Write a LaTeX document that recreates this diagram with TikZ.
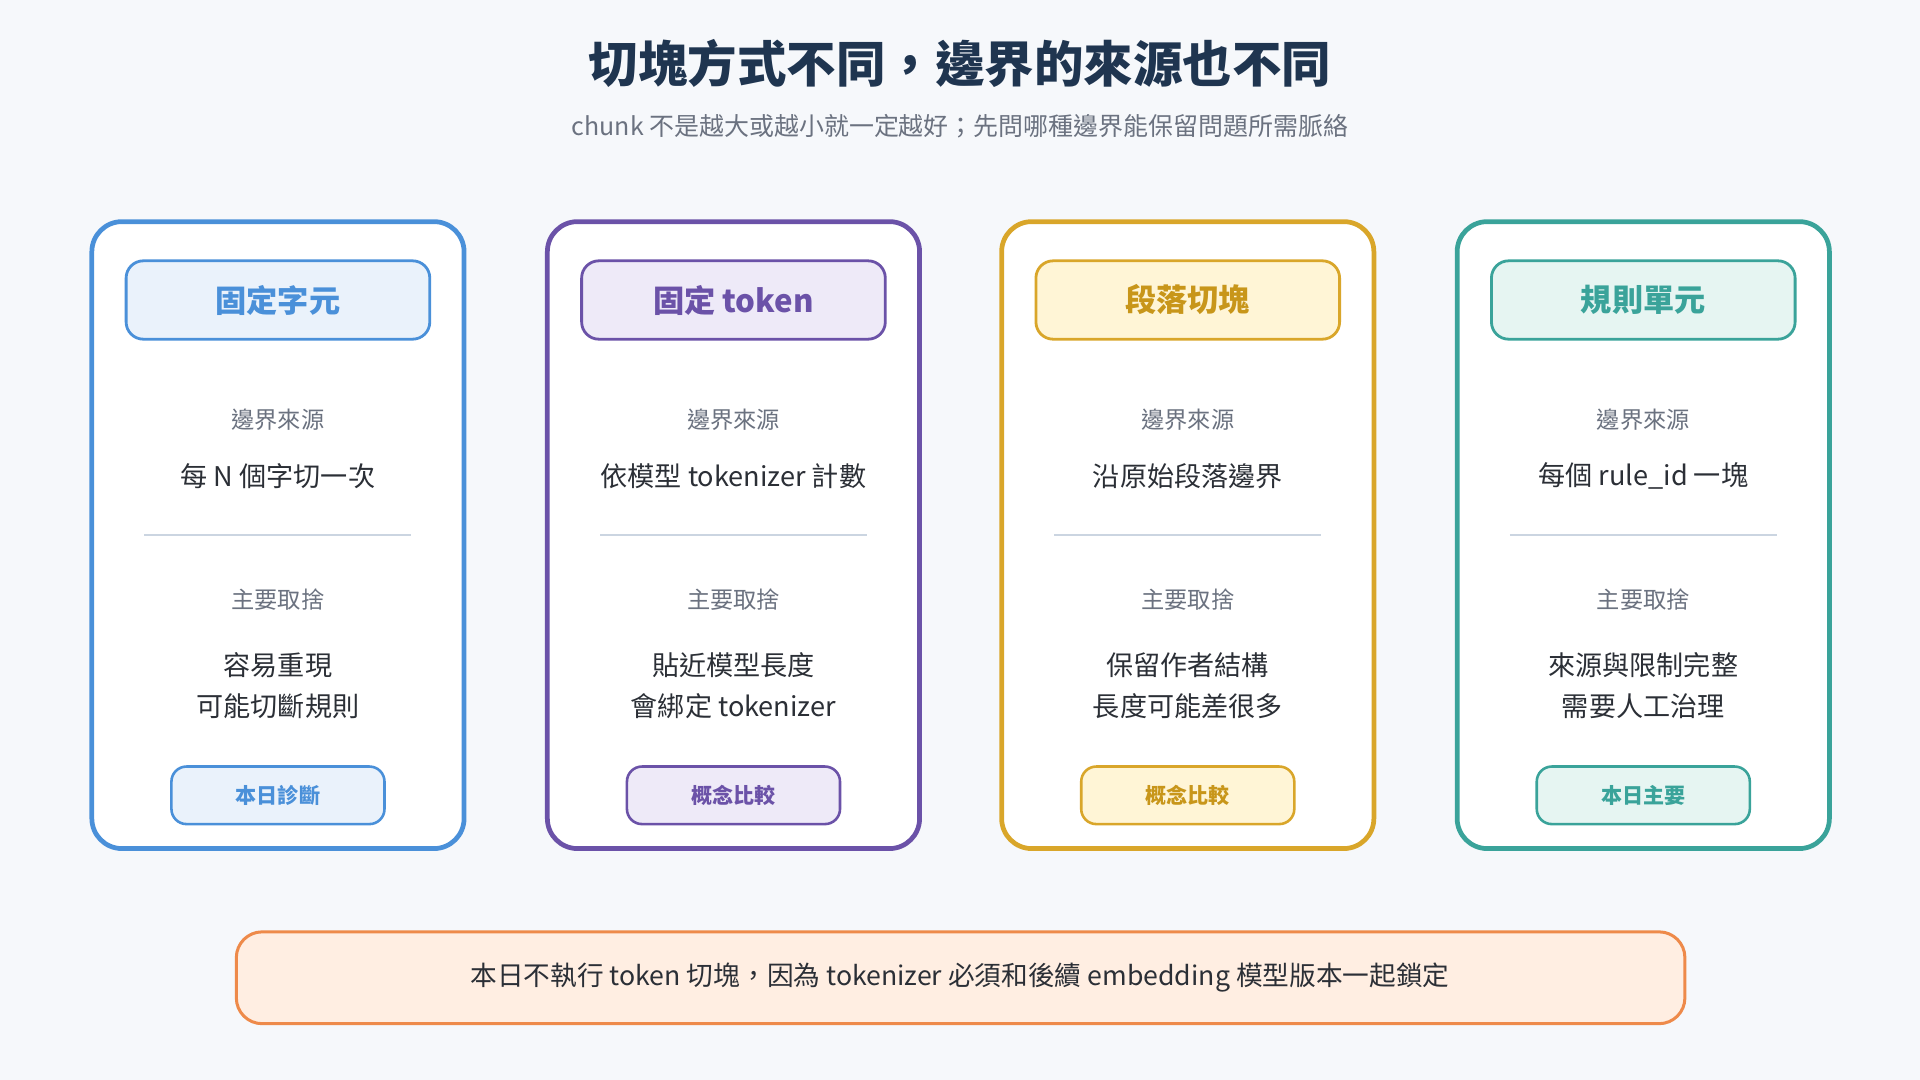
\documentclass[tikz,border=0pt]{standalone}
\usepackage{fontspec}
\setmainfont{Noto Sans CJK TC}
\definecolor{bg}{HTML}{F6F8FB}
\definecolor{ttl}{HTML}{1F3550}
\definecolor{txt}{HTML}{2B2F36}
\definecolor{gry}{HTML}{6B7280}
\definecolor{divc}{HTML}{CBD5E1}
\definecolor{cA}{HTML}{4A90D9}\definecolor{fA}{HTML}{EAF2FB}
\definecolor{cB}{HTML}{6B52A8}\definecolor{fB}{HTML}{EEEAF8}
\definecolor{cC}{HTML}{D9A62A}\definecolor{fC}{HTML}{FFF5D6}\definecolor{tC}{HTML}{C8961A}
\definecolor{cD}{HTML}{3AA39A}\definecolor{fD}{HTML}{E6F5F2}
\definecolor{oB}{HTML}{EE8A4A}\definecolor{oF}{HTML}{FFEEE2}
\begin{document}
\begin{tikzpicture}[x=0.02cm,y=-0.02cm,
 card/.style={draw=#1,line width=2.2pt,fill=white,rounded corners=14pt},
 head/.style={draw=#1,line width=1.3pt,rounded corners=8pt,minimum width=248*0.02cm,minimum height=64*0.02cm,font=\fontsize{14.5}{16}\selectfont\bfseries},
 badge/.style={draw=#1,line width=1.2pt,rounded corners=7pt,minimum width=174*0.02cm,minimum height=47*0.02cm,font=\fontsize{9.8}{11}\selectfont\bfseries},
 lab/.style={text=gry,font=\fontsize{10.8}{12}\selectfont},
 val/.style={text=txt,font=\fontsize{12.6}{19}\selectfont,align=center}]
\fill[bg] (0,0) rectangle (1568,882);
\useasboundingbox (0,0) rectangle (1568,882);
\node[text=ttl,font=\fontsize{23}{26}\selectfont\bfseries] (title) at (784,52) {切塊方式不同，邊界的來源也不同};
\node[text=gry,font=\fontsize{11.6}{13}\selectfont] (sub) at (784,103) {chunk 不是越大或越小就一定越好；先問哪種邊界能保留問題所需脈絡};
\foreach \i/\x/\c/\f/\t/\h/\v/\a/\b/\bd in {
 1/75/cA/fA/cA/固定字元/每 N 個字切一次/容易重現/可能切斷規則/本日診斷,
 2/447/cB/fB/cB/固定 token/依模型 tokenizer 計數/貼近模型長度/會綁定 tokenizer/概念比較,
 3/818/cC/fC/tC/段落切塊/沿原始段落邊界/保留作者結構/長度可能差很多/概念比較,
 4/1190/cD/fD/cD/規則單元/每個 rule\_id 一塊/來源與限制完整/需要人工治理/本日主要}{
 \draw[card=\c] (\x,181) rectangle ++(304,512);
 \node[head=\c,fill=\f,text=\t] (h\i) at (\x+152,245) {\h};
 \node[lab] (l\i) at (\x+152,343) {邊界來源};
 \node[val] (v\i) at (\x+152,389) {\v};
 \draw[divc,line width=1.2pt] (\x+43,437) -- (\x+261,437);
 \node[lab] (m\i) at (\x+152,490) {主要取捨};
 \node[val] (t\i) at (\x+152,560) {\a\\\b};
 \node[badge=\c,fill=\f,text=\t] (b\i) at (\x+152,649.5) {\bd};
}
\draw[draw=oB,fill=oF,line width=1.4pt,rounded corners=12pt] (193,761) rectangle (1376,836);
\node[text=txt,font=\fontsize{12.4}{14}\selectfont] (note) at (784,798) {本日不執行 token 切塊，因為 tokenizer 必須和後續 embedding 模型版本一起鎖定};
\end{tikzpicture}
\end{document}
